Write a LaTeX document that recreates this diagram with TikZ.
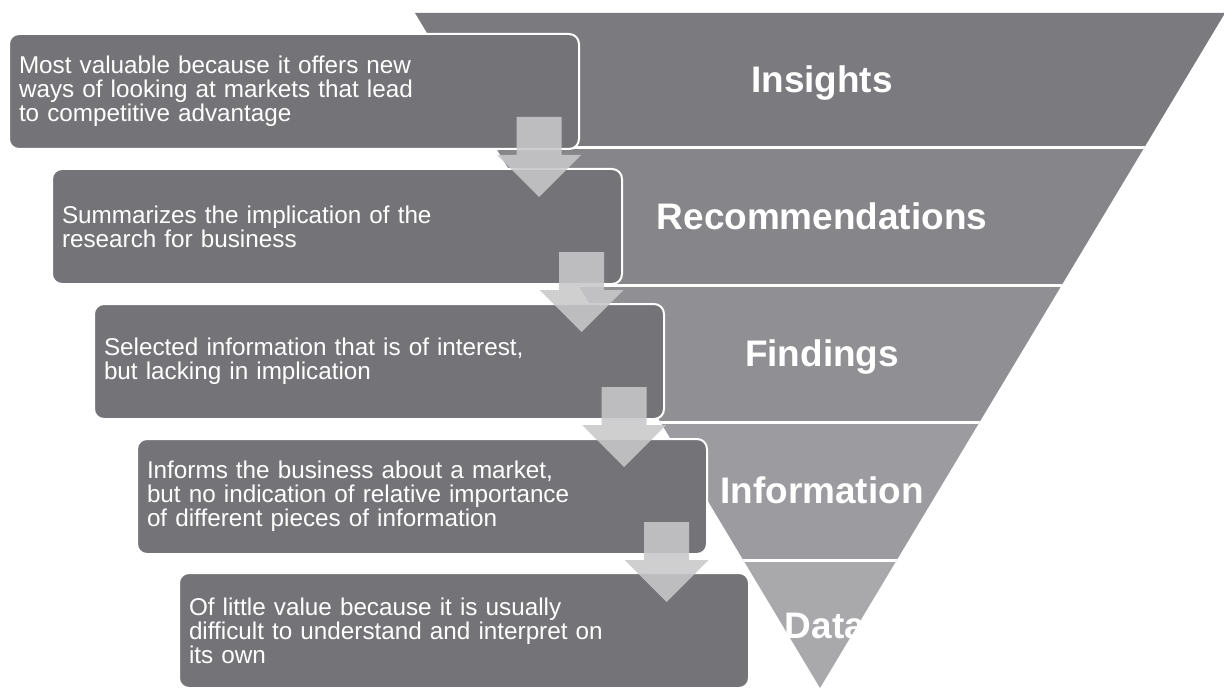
\documentclass[tikz,border=0pt]{standalone}
\usepackage{fontspec}
\setmainfont{Liberation Sans}
\definecolor{bandA}{RGB}{122,122,127}
\definecolor{bandB}{RGB}{133,133,138}
\definecolor{bandC}{RGB}{144,144,148}
\definecolor{bandD}{RGB}{156,156,160}
\definecolor{bandE}{RGB}{169,169,172}
\definecolor{boxgrey}{RGB}{116,116,120}
\definecolor{arrowgrey}{RGB}{200,200,202}
\tikzset{
  infobox/.style={draw=white, line width=1.5pt, fill=boxgrey, rounded corners=7.5pt,
    minimum width=427.5pt, minimum height=86.25pt, text width=412.5pt, inner xsep=7.5pt,
    align=left, font=\fontsize{18.2}{18}\selectfont, text=white, anchor=north west},
  levellabel/.style={text=white, font=\fontsize{27.7}{30}\selectfont\bfseries, anchor=base, inner sep=0pt},
  blockarrow/.style={fill=arrowgrey, fill opacity=0.88},
  sepline/.style={draw=white, line width=2.25pt}
}
\begin{document}
\begin{tikzpicture}[x=0.75pt,y=-0.75pt]
\useasboundingbox (0,0) rectangle (1224,688);
\coordinate (ftl) at (415,13);
\coordinate (ftr) at (1225,13);
\coordinate (ftip) at (820,688);
\begin{scope}
  \clip (ftl) -- (ftr) -- (ftip) -- cycle;
  \fill[bandA] (0,0) rectangle (1300,148);
  \fill[bandB] (0,148) rectangle (1300,285);
  \fill[bandC] (0,285) rectangle (1300,422);
  \fill[bandD] (0,422) rectangle (1300,560);
  \fill[bandE] (0,560) rectangle (1300,700);
  \foreach \yy in {148,285,422,560} \draw[sepline] (0,\yy) -- (1300,\yy);
\end{scope}
\node[levellabel] (l1) at (822,93) {Insights};
\node[levellabel] (l2) at (822,229) {Recommendations};
\node[levellabel] (l3) at (822,366) {Findings};
\node[levellabel] (l4) at (822,503) {Information};
\node[levellabel] (l5) at (825,638) {Data};

\node[infobox] (b1) at (8,33) {Most valuable because it offers new\\ways of looking at markets that lead\\to competitive advantage};
\node[infobox] (b2) at (51,168) {Summarizes the implication of the\\research for business};
\node[infobox] (b3) at (93,303) {Selected information that is of interest,\\but lacking in implication};
\node[infobox] (b4) at (136,438) {Informs the business about a market,\\but no indication of relative importance\\of different pieces of information};
\node[infobox] (b5) at (178,572) {Of little value because it is usually\\difficult to understand and interpret on\\its own};

\foreach \i in {0,1,2,3} {
  \pgfmathsetmacro{\cx}{539+42.5*\i}
  \pgfmathsetmacro{\yo}{117+135*\i}
  \fill[blockarrow] (\cx-22.5,\yo) -- (\cx+22.5,\yo) -- (\cx+22.5,\yo+38) -- (\cx+42,\yo+38)
    -- (\cx,\yo+80) -- (\cx-42,\yo+38) -- (\cx-22.5,\yo+38) -- cycle;
}
\end{tikzpicture}
\end{document}
